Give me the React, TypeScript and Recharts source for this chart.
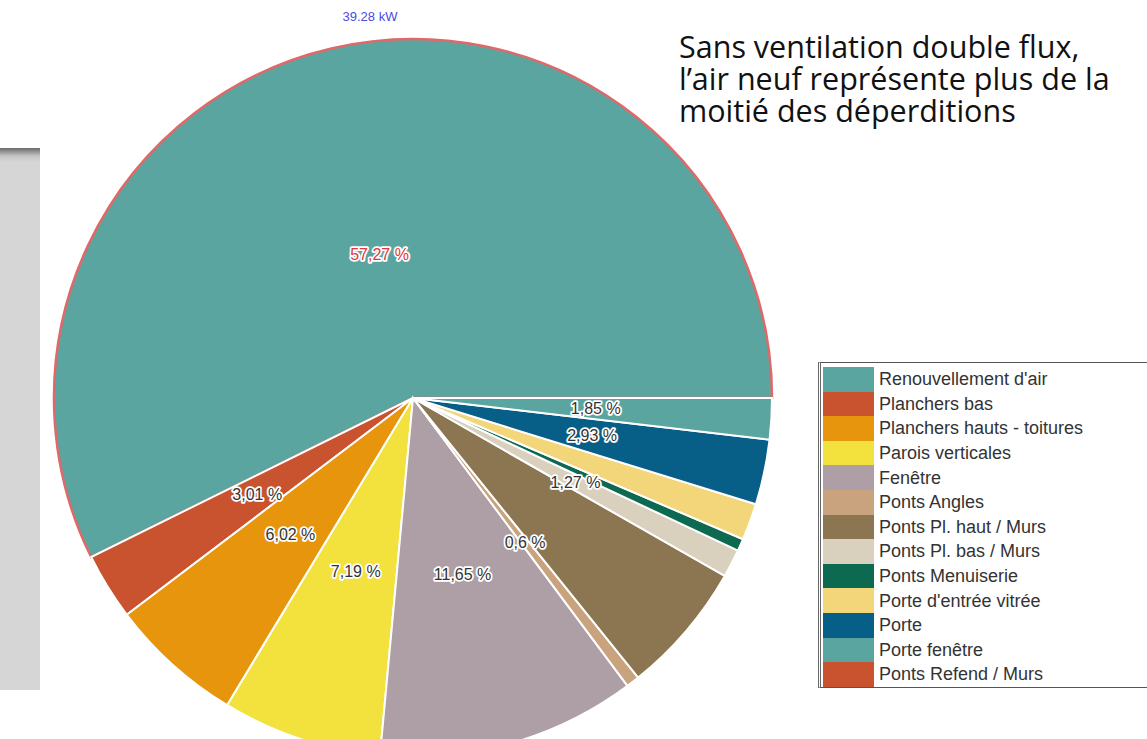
import React from "react";
import { PieChart, Pie, Cell } from "recharts";

// Heat loss breakdown (share of 39.28 kW)
const categories = [
  "Renouvellement d'air",
  "Planchers bas",
  "Planchers hauts - toitures",
  "Parois verticales",
  "Fenêtre",
  "Ponts Angles",
  "Ponts Pl. haut / Murs",
  "Ponts Pl. bas / Murs",
  "Ponts Menuiserie",
  "Porte d'entrée vitrée",
  "Porte",
  "Porte fenêtre",
  "Ponts Refend / Murs",
];
const values = [57.27, 3.01, 6.02, 7.19, 11.65, 0.6, 5.95, 1.27, 0.55, 1.65, 2.93, 1.85, 0];
const showLabel = [true, true, true, true, true, true, false, true, false, false, true, true, false];
const colors = [
  "#5aa5a0",
  "#c9532f",
  "#e8950e",
  "#f3e23e",
  "#ad9fa5",
  "#c9a27e",
  "#8b7651",
  "#d9d1be",
  "#0d6a50",
  "#f3d67a",
  "#075e86",
  "#5aa5a0",
  "#c9532f",
];
const totalLabel = "39.28 kW";
const noteLines = [
  "Sans ventilation double flux,",
  "l’air neuf représente plus de la",
  "moitié des déperditions",
];

const RADIAN = Math.PI / 180;

const chartData = categories
  .map((name, i) => ({ name, value: values[i], color: colors[i], labelled: showLabel[i], idx: i }))
  .filter((d) => d.value > 0);

const renderLabel = (props: any) => {
  const { cx, cy, midAngle, outerRadius, payload } = props;
  if (!payload.labelled) return null;
  const big = payload.idx === 0;
  const r = outerRadius * (big ? 0.41 : 0.51);
  const x = cx + r * Math.cos(-midAngle * RADIAN);
  const y = cy + r * Math.sin(-midAngle * RADIAN);
  return (
    <text
      x={x}
      y={y}
      textAnchor="middle"
      dominantBaseline="central"
      fontFamily="'Liberation Sans', Arial, sans-serif"
      fontSize={16}
      fill={big ? "#e3363a" : "#333333"}
      stroke="#ffffff"
      strokeWidth={3.5}
      paintOrder="stroke"
      strokeLinejoin="round"
    >
      {String(payload.value).replace(".", ",") + " %"}
    </text>
  );
};

const LegendBox = () => (
  <div
    style={{
      position: "absolute",
      left: 818,
      top: 362,
      width: 340,
      height: 326,
      border: "1px solid #555",
      borderLeft: "3px double #666",
      background: "#fff",
      boxSizing: "border-box",
      padding: "4px 0 0 2px",
    }}
  >
    {categories.map((name, i) => (
      <div key={name} style={{ display: "flex", alignItems: "center", height: 24.6 }}>
        <div style={{ width: 51, height: 24.6, background: colors[i], flexShrink: 0 }} />
        <span
          style={{
            marginLeft: 5,
            fontFamily: "'Liberation Sans', Arial, sans-serif",
            fontSize: 18,
            lineHeight: "20px",
            color: "#333",
            whiteSpace: "nowrap",
          }}
        >
          {name}
        </span>
      </div>
    ))}
  </div>
);

export default function App() {
  return (
    <div
      style={{
        position: "fixed",
        left: 0,
        top: 0,
        width: 1147,
        height: 739,
        overflow: "hidden",
        background: "#fff",
      }}
    >
      {/* grey panel edge on the left */}
      <div
        style={{
          position: "absolute",
          left: 0,
          top: 148,
          width: 40,
          height: 542,
          background: "linear-gradient(#6a6a6a 0px, #c4c4c4 8px, #d6d6d6 14px)",
        }}
      />
      <PieChart width={1147} height={739} style={{ position: "absolute", left: 0, top: 0 }}>
        <Pie
          data={chartData}
          dataKey="value"
          nameKey="name"
          cx={408}
          cy={393}
          outerRadius={359}
          startAngle={0}
          endAngle={360}
          stroke="#ffffff"
          strokeWidth={2}
          label={renderLabel}
          labelLine={false}
          isAnimationActive={false}
        >
          {chartData.map((d) => (
            <Cell
              key={d.name}
              fill={d.color}
              stroke={d.idx === 0 ? "#e06868" : "#ffffff"}
              strokeWidth={d.idx === 0 ? 2.5 : 2}
            />
          ))}
        </Pie>
      </PieChart>
      <div
        style={{
          position: "absolute",
          left: 270,
          top: 9,
          width: 200,
          textAlign: "center",
          fontFamily: "'Liberation Sans', Arial, sans-serif",
          fontSize: 13,
          color: "#4b4be0",
        }}
      >
        {totalLabel}
      </div>
      <div
        style={{
          position: "absolute",
          left: 679,
          top: 30,
          fontFamily: "'Open Sans', Lato, sans-serif",
          fontSize: 30.5,
          lineHeight: "32px",
          color: "#111",
          whiteSpace: "nowrap",
        }}
      >
        {noteLines.map((l) => (
          <div key={l}>{l}</div>
        ))}
      </div>
      <LegendBox />
    </div>
  );
}
